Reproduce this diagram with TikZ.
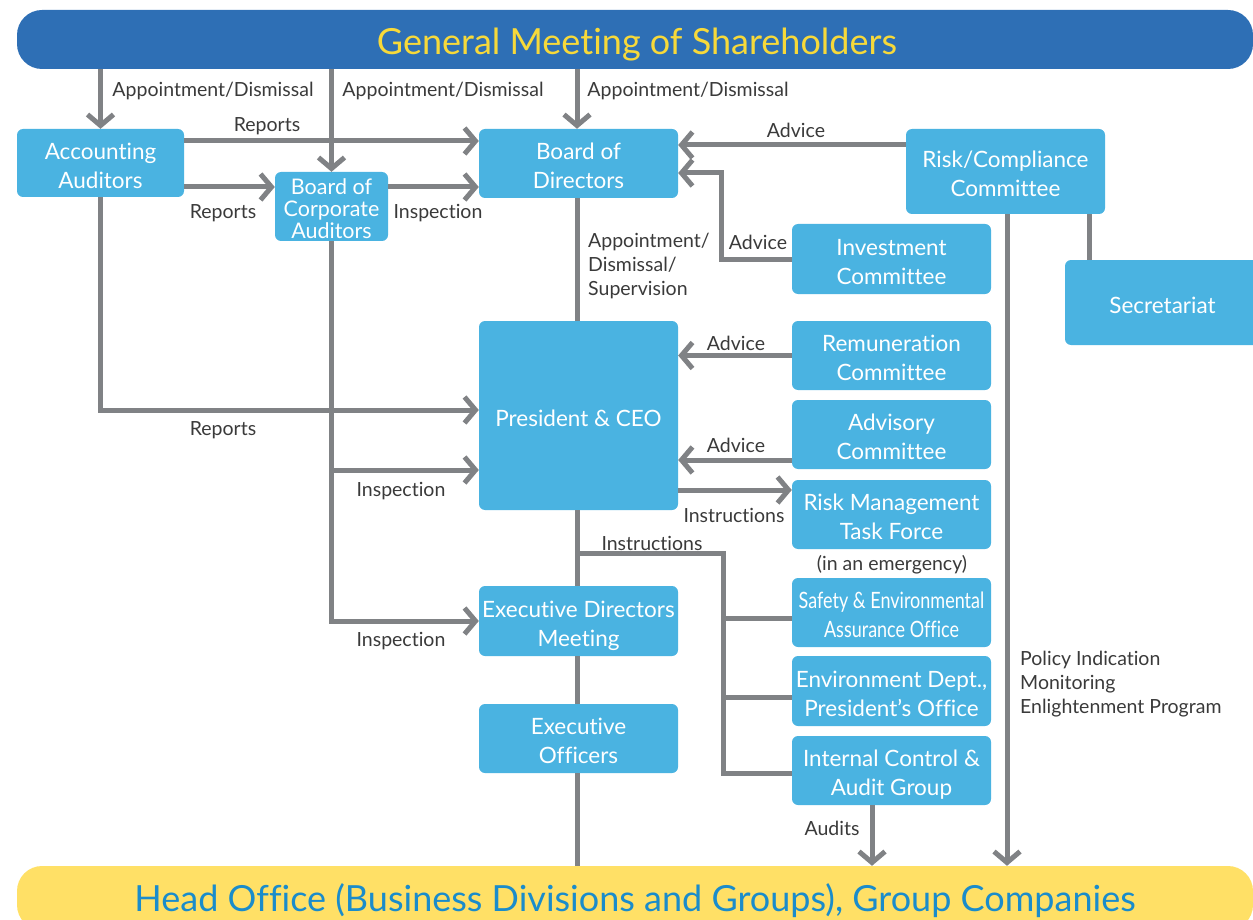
\documentclass[tikz,border=0pt]{standalone}
\usepackage{fontspec}
\setmainfont{Lato}[Ligatures={NoCommon}]
\newfontfamily\condfont{Lato}[FakeStretch=0.80,Ligatures={NoCommon}]
\usetikzlibrary{arrows.meta}
\definecolor{topblue}{HTML}{2E6FB5}
\definecolor{titleyellow}{HTML}{F7D93A}
\definecolor{boxblue}{HTML}{4AB3E1}
\definecolor{baryellow}{HTML}{FFE066}
\definecolor{bottomtext}{HTML}{1A8CCB}
\definecolor{linegray}{HTML}{808285}
\definecolor{labeltext}{HTML}{3A3A3A}
\newcommand\boxtxt[1]{\raisebox{-5pt}[\height][\depth]{\begin{tabular}{@{}c@{}}#1\end{tabular}}}
\tikzset{
  box/.style={fill=boxblue, rounded corners=6pt, text=white, inner sep=0pt,
    font=\fontsize{22.5}{29}\selectfont},
  conn/.style={draw=linegray, line width=5pt},
  arr/.style={conn, -{Straight Barb[length=11pt,width=26pt,line width=5pt]}},
  lbl/.style={text=labeltext, inner sep=0pt, font=\fontsize{19.5}{24}\selectfont},
  lbll/.style={lbl, align=left, anchor=north west},
}
\begin{document}
\begin{tikzpicture}[x=1pt,y=-1pt]
\useasboundingbox (0,0) rectangle (1253,920);
\clip (0,0) rectangle (1253,920);
% bars
\node[fill=topblue, rounded corners=25pt, minimum width=1236pt, minimum height=59pt, inner sep=0pt,
  text=titleyellow, font=\fontsize{36}{40}\selectfont] (gms) at (635,39.5) {\hspace*{4pt}\raisebox{-5pt}[\height][\depth]{General Meeting of Shareholders}};
\node[fill=baryellow, rounded corners=25pt, minimum width=1236pt, minimum height=64pt, inner sep=0pt,
  text=bottomtext, font=\fontsize{36}{40}\selectfont] (hoc) at (635,898) {\raisebox{-3pt}[\height][\depth]{Head Office (Business Divisions and Groups), Group Companies}};
% boxes
\node[box, minimum width=167pt, minimum height=68pt] (acc) at (100.5,163) {\boxtxt{Accounting\\Auditors}};
\node[box, minimum width=113pt, minimum height=69pt, font=\fontsize{21.5}{21}\selectfont] (bca) at (331.5,206.5) {\boxtxt{Board of\\Corporate\\Auditors}};
\node[box, minimum width=199pt, minimum height=69pt] (bod) at (578.5,163.5) {\boxtxt{Board of\\Directors}};
\node[box, minimum width=199pt, minimum height=85pt] (risk) at (1005.5,171.5) {\boxtxt{Risk/Compliance\\Committee}};
\node[box, minimum width=199pt, minimum height=70pt] (inv) at (891.5,259) {\boxtxt{Investment\\Committee}};
\node[box, minimum width=195pt, minimum height=85pt] (sec) at (1162.5,302.5) {\boxtxt{Secretariat}};
\node[box, minimum width=199pt, minimum height=189pt] (ceo) at (578.5,415.5) {\boxtxt{President \& CEO}};
\node[box, minimum width=199pt, minimum height=69pt] (rem) at (891.5,355.5) {\boxtxt{Remuneration\\Committee}};
\node[box, minimum width=199pt, minimum height=69pt] (adv) at (891.5,434.5) {\boxtxt{Advisory\\Committee}};
\node[box, minimum width=199pt, minimum height=69pt] (rmtf) at (891.5,514.5) {\boxtxt{Risk Management\\Task Force}};
\node[box, minimum width=199pt, minimum height=69pt, font=\condfont\fontsize{22.5}{29}\selectfont] (safe) at (891.5,612.5) {\boxtxt{Safety \& Environmental\\Assurance Office}};
\node[box, minimum width=199pt, minimum height=70pt] (env) at (891.5,691) {\boxtxt{Environment Dept.,\\President’s Office}};
\node[box, minimum width=199pt, minimum height=69pt] (icag) at (891.5,770.5) {\boxtxt{Internal Control \&\\Audit Group}};
\node[box, minimum width=199pt, minimum height=70pt] (edm) at (578.5,621) {\boxtxt{Executive Directors\\Meeting}};
\node[box, minimum width=199pt, minimum height=69pt] (eo) at (578.5,738.5) {\boxtxt{Executive\\Officers}};
% helper coordinates
\coordinate (accR1) at ([yshift=22pt]acc.east);
\coordinate (accR2) at ([yshift=-24pt]acc.east);
\coordinate (bcaR) at ([yshift=19.5pt]bca.east);
\coordinate (riskL) at ([yshift=26.5pt]risk.west);
\coordinate (bodR2) at ([yshift=-9.5pt]bod.east);
\coordinate (invBend) at ([xshift=43pt]bodR2);
\coordinate (ceoL1) at ([yshift=5.5pt]ceo.west);
\coordinate (ceoL2) at ([yshift=-54.5pt]ceo.west);
\coordinate (advL) at ([yshift=-25.5pt]adv.west);
\coordinate (ceoR3) at ([yshift=-74.5pt]ceo.east);
\coordinate (busTop) at ([yshift=-43pt]ceo.south);
\coordinate (safeL) at ([yshift=-6pt]safe.west);
\coordinate (envL) at ([yshift=-6pt]env.west);
\coordinate (icagL) at ([yshift=-2.5pt]icag.west);
\coordinate (busX) at ([xshift=-68pt]icagL);
\coordinate (riskS) at ([xshift=1.5pt]risk.south);
\coordinate (riskS2) at ([xshift=83.5pt]risk.south);
\coordinate (icagS) at ([xshift=-19.5pt]icag.south);
% connectors
\draw[arr] (gms.south -| acc.north) -- (acc.north);
\draw[arr] (gms.south -| bca.north) -- (bca.north);
\draw[arr] ([xshift=-1.5pt]gms.south -| bod.north) -- ([xshift=-1.5pt]bod.north);
\draw[arr] (accR1) -- (accR1 -| bod.west);
\draw[arr] (accR2) -- (accR2 -| bca.west);
\draw[arr] (bcaR) -- (bcaR -| bod.west);
\draw[arr] (riskL) -- (riskL -| bod.east);
\draw[arr] (inv.west) -| (invBend) -- (bodR2);
\draw[conn] ([xshift=-1.5pt]bod.south) -- ([xshift=-1.5pt]ceo.north);
\draw[arr] (acc.south) |- (ceoL1);
\draw[arr] (bca.south) |- (edm.west);
\draw[arr] (bca.south |- ceoL2) -- (ceoL2);
\draw[arr] (rem.west) -- (rem.west -| ceo.east);
\draw[arr] (advL) -- (advL -| ceo.east);
\draw[arr] (ceoR3) -- (ceoR3 -| rmtf.west);
\draw[conn] ([xshift=-1.5pt]ceo.south) -- ([xshift=-1.5pt]edm.north);
\draw[conn] ([xshift=-1.5pt]edm.south) -- ([xshift=-1.5pt]eo.north);
\draw[conn] ([xshift=-1.5pt]eo.south) -- ([xshift=-1.5pt]eo.south |- hoc.north);
\draw[conn] ([xshift=-1.5pt]busTop) -| (busX) -- (icagL);
\draw[conn] (safeL -| busX) -- (safeL);
\draw[conn] (envL -| busX) -- (envL);
\draw[arr] (riskS) -- (riskS |- hoc.north);
\draw[conn] (riskS2) -- (riskS2 |- sec.north);
\draw[arr] (icagS) -- (icagS |- hoc.north);
% labels
\node[lbl] (l1) at (213,91) {Appointment/Dismissal};
\node[lbl] (l2) at (443,91) {Appointment/Dismissal};
\node[lbl] (l3) at (688,91) {Appointment/Dismissal};
\node[lbl] (l4) at (267,126) {Reports};
\node[lbl] (l5) at (223,213) {Reports};
\node[lbl] (l6) at (438,213) {Inspection};
\node[lbl] (l7) at (796,130) {Advice};
\node[lbl] (l8) at (758,242) {Advice};
\node[lbll] (l9) at (588,233) {Appointment/\\Dismissal/\\Supervision};
\node[lbl] (l10) at (223,430) {Reports};
\node[lbl] (l11) at (401,491) {Inspection};
\node[lbl] (l12) at (401,641) {Inspection};
\node[lbl] (l13) at (736,343) {Advice};
\node[lbl] (l14) at (736,445) {Advice};
\node[lbl] (l15) at (734,515) {Instructions};
\node[lbl] (l16) at (652,543) {Instructions};
\node[lbl] (l17) at (892,565) {(in an emergency)};
\node[lbll] (l18) at (1020,651) {Policy Indication\\Monitoring\\Enlightenment Program};
\node[lbl] (l19) at (832,828) {Audits};
\end{tikzpicture}
\end{document}
